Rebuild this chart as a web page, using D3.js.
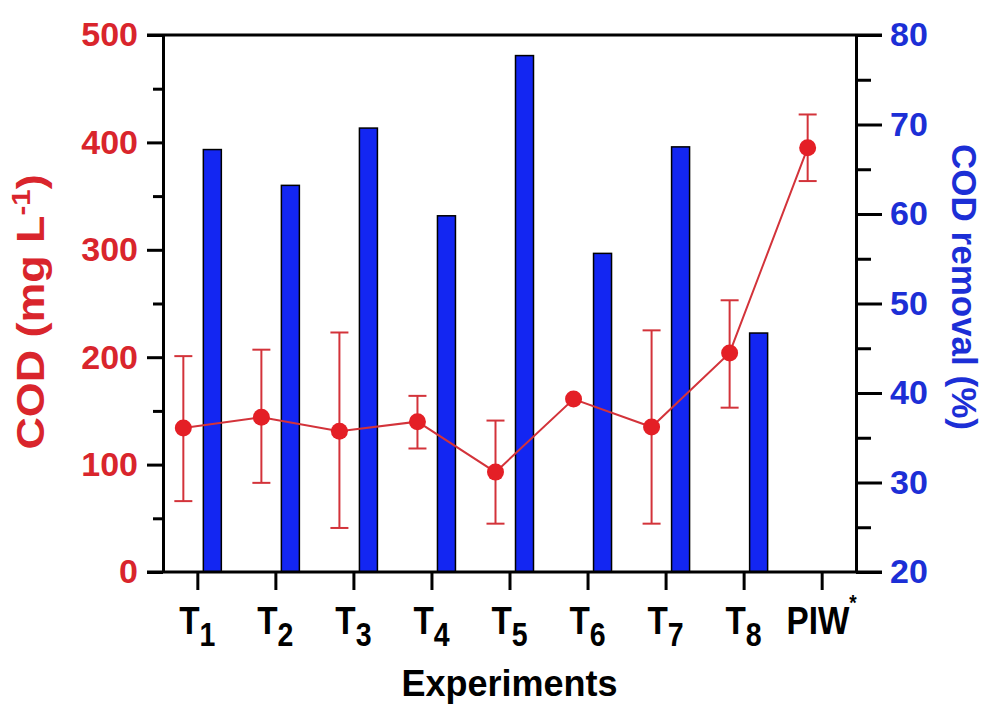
<script src="https://d3js.org/d3.v7.min.js"></script>
<style>
  body { margin: 0; background: #fff; }
  text { font-family: "Liberation Sans", Arial, sans-serif; font-weight: bold; }
</style>
<svg id="chart" width="985" height="704"></svg>
<script>
const experiments = ["T1", "T2", "T3", "T4", "T5", "T6", "T7", "T8", "PIW"];
const tickMain = ["T", "T", "T", "T", "T", "T", "T", "T", "PIW"];
const tickSub = ["1", "2", "3", "4", "5", "6", "7", "8", ""];
const tickSup = ["", "", "", "", "", "", "", "", "*"];

// COD (mg/L) with error bar ends
const codMean = [134, 144, 131, 140, 93, 161, 135, 204, 395];
const codLow = [66, 83, 41, 115, 45, 161, 45, 153, 364];
const codHigh = [201, 207, 223, 164, 141, 161, 225, 253, 426];

// COD removal (%)
const removal = [67.2, 63.2, 69.6, 59.8, 77.7, 55.6, 67.5, 46.7, null];

const leftTicks = [0, 100, 200, 300, 400, 500];
const leftMinor = [50, 150, 250, 350, 450];
const rightTicks = [20, 30, 40, 50, 60, 70, 80];
const rightMinor = [25, 35, 45, 55, 65, 75];

const RED = "#d9252c", DOT = "#e41f26", LINE = "#d3333a";
const BLUE = "#1c2fd6", BAR = "#1326f2";

const m = { left: 163, right: 856, top: 35, bottom: 572 };
const svg = d3.select("#chart");

const x = d3.scalePoint().domain(experiments).range([m.left, m.right]).padding(0.44);
const yL = d3.scaleLinear().domain([0, 500]).range([m.bottom, m.top]);
const yR = d3.scaleLinear().domain([20, 80]).range([m.bottom, m.top]);

const data = experiments.map((e, i) => ({
  e, mean: codMean[i], lo: codLow[i], hi: codHigh[i], rem: removal[i]
}));

// bars
svg.append("g").selectAll("rect")
  .data(data.filter(d => d.rem != null))
  .join("rect")
  .attr("x", d => x(d.e) + 6)
  .attr("width", 18)
  .attr("y", d => yR(d.rem))
  .attr("height", d => yR(20) - yR(d.rem))
  .attr("fill", BAR)
  .attr("stroke", "#000")
  .attr("stroke-width", 1.5);

// frame lines
svg.append("line").attr("x1", m.left - 16).attr("x2", m.right + 26).attr("y1", m.top).attr("y2", m.top)
  .attr("stroke", "#000").attr("stroke-width", 3);

const styleAxis = g => {
  g.selectAll("path.domain").attr("stroke", "#000").attr("stroke-width", 3);
  g.selectAll(".tick line").attr("stroke", "#000").attr("stroke-width", 3);
};
const styleText = (g, c) => g.selectAll(".tick text").attr("fill", c).attr("font-size", 34)
  .attr("font-family", "Liberation Sans, Arial, sans-serif").attr("font-weight", "bold");

// left axis
svg.append("g").attr("transform", `translate(${m.left},0)`)
  .call(d3.axisLeft(yL).tickValues(leftMinor).tickSize(10).tickSizeOuter(0).tickFormat(""))
  .call(styleAxis);
svg.append("g").attr("transform", `translate(${m.left},0)`)
  .call(d3.axisLeft(yL).tickValues(leftTicks).tickSize(16).tickSizeOuter(0).tickPadding(9))
  .call(styleAxis)
  .call(g => styleText(g, RED));

// right axis
svg.append("g").attr("transform", `translate(${m.right},0)`)
  .call(d3.axisRight(yR).tickValues(rightMinor).tickSize(15).tickSizeOuter(0).tickFormat(""))
  .call(styleAxis);
svg.append("g").attr("transform", `translate(${m.right},0)`)
  .call(d3.axisRight(yR).tickValues(rightTicks).tickSize(26).tickSizeOuter(0).tickPadding(8))
  .call(styleAxis)
  .call(g => styleText(g, BLUE));

// bottom axis
const xAxis = svg.append("g").attr("transform", `translate(0,${m.bottom})`)
  .call(d3.axisBottom(x).tickSize(18).tickSizeOuter(0).tickFormat(""))
  .call(styleAxis);
xAxis.select("path.domain").remove();
svg.append("line").attr("x1", m.left - 16).attr("x2", m.right + 26).attr("y1", m.bottom).attr("y2", m.bottom)
  .attr("stroke", "#000").attr("stroke-width", 3);

// x tick labels
const lab = svg.append("g").selectAll("text")
  .data(experiments)
  .join("text")
  .attr("transform", d => `translate(${x(d)},634) scale(0.95,1.1)`)
  .attr("text-anchor", "middle")
  .attr("font-size", 35)
  .attr("fill", "#000");
lab.append("tspan").text((d, i) => tickMain[i]);
lab.append("tspan").attr("dy", 11).attr("font-size", 30).text((d, i) => tickSub[i]);
lab.append("tspan").attr("dy", -22).attr("font-size", 20).text((d, i) => tickSup[i]);

// error bars
const err = svg.append("g").attr("stroke", LINE).attr("stroke-width", 2)
  .selectAll("g").data(data.filter(d => d.hi > d.lo)).join("g");
err.append("line").attr("x1", d => x(d.e) - 14).attr("x2", d => x(d.e) - 14)
  .attr("y1", d => yL(d.lo)).attr("y2", d => yL(d.hi));
err.append("line").attr("x1", d => x(d.e) - 23).attr("x2", d => x(d.e) - 5)
  .attr("y1", d => yL(d.lo)).attr("y2", d => yL(d.lo));
err.append("line").attr("x1", d => x(d.e) - 23).attr("x2", d => x(d.e) - 5)
  .attr("y1", d => yL(d.hi)).attr("y2", d => yL(d.hi));

// line and points
svg.append("path").datum(data)
  .attr("d", d3.line().x(d => x(d.e) - 14).y(d => yL(d.mean)))
  .attr("fill", "none").attr("stroke", LINE).attr("stroke-width", 2);
svg.append("g").selectAll("circle").data(data).join("circle")
  .attr("cx", d => x(d.e) - 14).attr("cy", d => yL(d.mean)).attr("r", 8.5)
  .attr("fill", DOT);

// axis titles
svg.append("text").attr("x", (m.left + m.right) / 2).attr("y", 696)
  .attr("text-anchor", "middle").attr("font-size", 36).attr("fill", "#000")
  .text("Experiments");

const lt = svg.append("text")
  .attr("transform", `translate(44,312) rotate(-90) scale(1.18,1)`)
  .attr("text-anchor", "middle").attr("font-size", 38).attr("fill", RED);
lt.append("tspan").text("COD (mg L");
lt.append("tspan").attr("dy", -14).attr("font-size", 25).text("-1");
lt.append("tspan").attr("dy", 14).text(")");

svg.append("text")
  .attr("transform", `translate(952,287) rotate(90)`)
  .attr("text-anchor", "middle").attr("font-size", 35).attr("fill", BLUE)
  .text("COD removal (%)");
</script>
